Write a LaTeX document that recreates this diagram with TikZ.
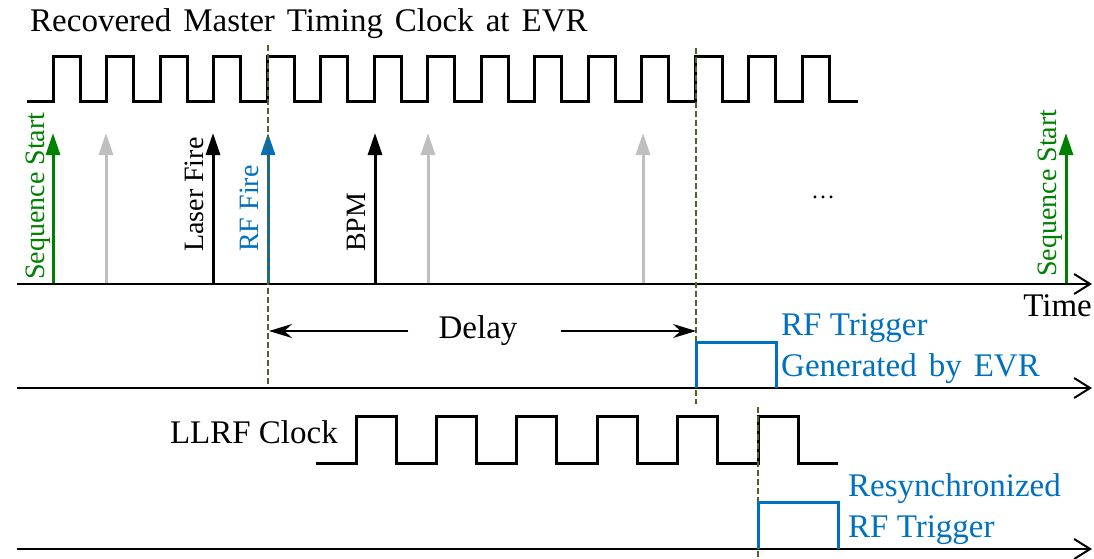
\documentclass[tikz,border=0pt]{standalone}
\usepackage{fontspec}
\setmainfont{Liberation Serif}
\usetikzlibrary{arrows.meta}

\definecolor{evrblue}{HTML}{0070C0}
\definecolor{seqgreen}{HTML}{008000}
\definecolor{ghost}{HTML}{BFBFBF}
\definecolor{guideolive}{HTML}{4F6228}

\newcommand{\widespaces}{\spaceskip=12pt\relax}

\tikzset{
  clk/.style={line width=3pt},
  timeaxis/.style={line width=2pt, -{Straight Barb[length=16pt,width=20pt]}},
  event/.style={line width=3pt, -{Triangle[width=14pt,length=22pt]}},
  guide/.style={guideolive, line width=1.5pt, dash pattern=on 6pt off 3pt},
  span/.style={line width=1.5pt, -{Stealth[length=23pt,width=14pt]}},
  pulse/.style={evrblue, line width=3pt},
  lbl/.style={font=\fontsize{33}{36}\selectfont, inner sep=0pt},
  vlbl/.style={font=\fontsize{28}{30}\selectfont, inner sep=0pt, rotate=90, anchor=base west},
}

\begin{document}
\begin{tikzpicture}[x=1pt,y=-1pt]

   \useasboundingbox (0,0) rectangle (1094,559);

   % master clock at the EVR
   \draw(30,32) node[lbl, anchor=base west] (title) {\widespaces Recovered Master Timing Clock at EVR};
   \draw[clk] (27,102) foreach \k in {0,...,14} {
      -- ({53+53.5*\k},102) |- ({80+53.5*\k},57) -- ({80+53.5*\k},102)
   } -- (858,102);

   % events of the sequence
   \foreach \x/\c in {53/seqgreen, 106/ghost, 213/black, 268/evrblue,
                      375/black, 428/ghost, 643/ghost, 1066/seqgreen}
      \draw[event, \c] (\x,284) -- (\x,133);

   \draw(44,280) node[vlbl, seqgreen] (seqstart) {Sequence Start};
   \draw(203,252) node[vlbl] (laser) {Laser Fire};
   \draw(258,252) node[vlbl, evrblue] (rffire) {RF Fire};
   \draw(365,252) node[vlbl] (bpm) {BPM};
   \draw(1056,277) node[vlbl, seqgreen] (seqend) {Sequence Start};
   \draw(823,197) node[font=\fontsize{24}{26}\selectfont, inner sep=0pt] (dots) {\ldots};

   \draw[timeaxis] (17,284) -- (1092,284);
   \draw(1092,316) node[lbl, anchor=base east] (timelbl) {Time};

   % delay between RF fire and trigger
   \draw[guide] (268,45) -- (268,386);
   \draw[guide] (696,48) -- (696,404);
   \coordinate (fire) at (269,331);
   \coordinate (trig) at (696,331);
   \draw(478,331) node[lbl] (delay) {Delay};
   \draw[span] ([xshift=-30pt]delay.west) -- (fire);
   \draw[span] ([xshift=43pt]delay.east) -- (trig);

   % RF trigger from the EVR
   \draw[timeaxis] (17,388) -- (1092,388);
   \draw[pulse] (696,388) |- (776,342) -- (776,388);
   \draw(781,335) node[lbl, anchor=base west, evrblue] (rftrig) {RF Trigger};
   \draw(781,376) node[lbl, anchor=base west, evrblue] (rfgen) {\widespaces Generated by EVR};

   % LLRF clock and resynchronized trigger
   \draw(338,443) node[lbl, anchor=base east] (llrf) {LLRF Clock};
   \draw[clk] (316,463) foreach \k in {0,...,5} {
      -- ({356+80.4*\k},463) |- ({396+80.4*\k},416) -- ({396+80.4*\k},463)
   } -- (838,463);
   \draw[guide] (758,407) -- (758,559);

   \draw[timeaxis] (17,549) -- (1092,549);
   \draw[pulse] (758,549) |- (838,502) -- (838,549);
   \draw(848,496) node[lbl, anchor=base west, evrblue] (resync) {Resynchronized};
   \draw(848,537) node[lbl, anchor=base west, evrblue] (resynctrig) {RF Trigger};

 \end{tikzpicture}
\end{document}
